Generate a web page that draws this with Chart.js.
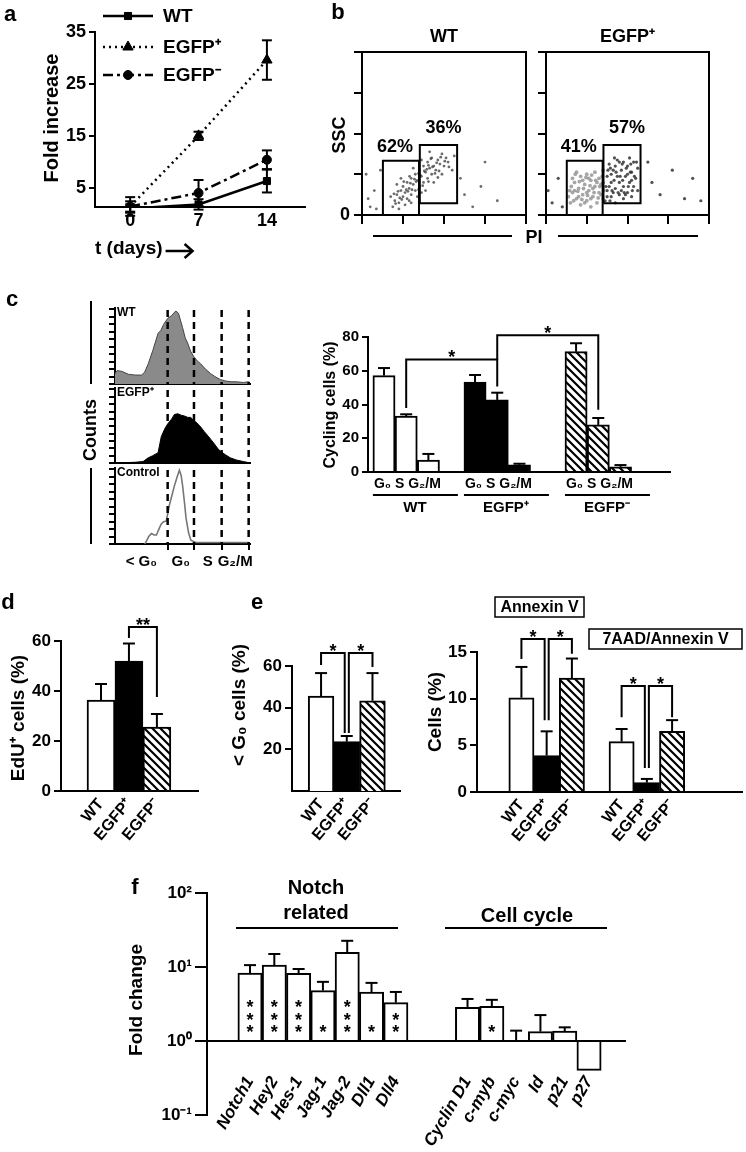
<!DOCTYPE html>
<html lang="en">
<head>
<meta charset="UTF-8">
<title>Figure</title>
<script src="https://cdn.jsdelivr.net/npm/chart.js"></script>
<style>
  body { margin: 0; background: #fff; }
  #fig { position: relative; width: 746px; height: 1152px; overflow: hidden; background: #fff; }
  #fig canvas { position: absolute; left: 0; top: 0; }
</style>
</head>
<body>
<div id="fig">
  <canvas id="growth" width="746" height="1152"></canvas>
  <canvas id="ssWT" width="746" height="1152"></canvas>
  <canvas id="ssPos" width="746" height="1152"></canvas>
  <canvas id="hWT" width="746" height="1152"></canvas>
  <canvas id="hPos" width="746" height="1152"></canvas>
  <canvas id="hCtrl" width="746" height="1152"></canvas>
  <canvas id="cycle" width="746" height="1152"></canvas>
  <canvas id="edu" width="746" height="1152"></canvas>
  <canvas id="subg0" width="746" height="1152"></canvas>
  <canvas id="apop" width="746" height="1152"></canvas>
  <canvas id="genes" width="746" height="1152"></canvas>
</div>
<script>
// ---------- data ----------
// a: fold increase over time
const days = [0, 7, 14];
const wtGrowth = [1.0, 1.8, 6.3];
const wtGrowthSd = [0.8, 1.0, 2.2];
const posGrowth = [1.4, 15.0, 29.6];
const posGrowthSd = [1.0, 0.8, 3.8];
const negGrowth = [1.4, 4.0, 10.4];
const negGrowthSd = [1.8, 2.5, 1.8];
const growthTicks = [5, 15, 25, 35];

// b: PI / SSC dot plots (PI and SSC in axis units 0-4)
const gateLow = [0.51, 1.39, 0, 1.33];
const gateHigh = [1.41, 2.32, 0.29, 1.72];
const gatePctWT = ['62%', '36%'];
const gatePctPos = ['41%', '57%'];
const dotsWT = [[0.75,0.2],[0.8,0.35],[0.85,0.5],[0.9,0.3],[0.95,0.6],[1.0,0.45],[1.0,0.7],[1.05,0.55],[1.1,0.4],[1.1,0.8],[1.15,0.65],[1.2,0.9],[1.2,0.5],[1.25,0.75],[1.3,0.6],[1.3,1.0],[1.35,0.85],[1.4,0.7],[1.4,1.1],[1.45,0.95],[1.5,0.8],[1.5,1.2],[1.55,1.05],[1.6,0.9],[1.6,1.3],[1.65,1.15],[1.7,1.0],[1.7,1.4],[1.75,1.2],[1.8,1.1],[1.85,1.35],[1.9,1.25],[1.95,1.5],[2.0,1.2],[2.05,1.4],[2.1,1.3],[0.9,0.15],[1.05,0.25],[1.2,0.3],[0.7,0.45],[0.85,0.75],[1.35,0.45],[1.55,0.6],[1.75,0.8],[1.95,1.0],[2.2,1.1],[2.25,1.45],[1.45,1.35],[1.25,1.15],[1.65,1.55],[0.92,0.42],[1.08,0.62],[1.18,0.78],[1.32,0.82],[1.42,0.98],[1.58,1.12],[1.72,1.18],[1.88,1.08],
  [0.82,0.28],[0.88,0.58],[0.97,0.38],[1.02,0.82],[1.12,0.58],[1.16,0.95],[1.22,0.62],[1.28,0.88],[1.38,0.62],[1.38,1.02],[1.48,0.72],[1.52,1.08],[1.62,0.82],[1.62,1.22],[1.68,1.38],[1.78,1.02],[1.82,1.28],[1.92,1.42],[2.02,1.32],[2.12,1.18],[0.78,0.52],[0.95,0.9],[1.15,0.35],[1.45,0.55],[1.85,0.92],
  [0.1,1.0],[0.15,0.4],[0.3,0.6],[0.35,0.15],[0.45,1.1],[2.5,0.5],[2.7,0.2],[2.9,0.7],[3.3,0.35],[3.0,1.3],[0.2,0.2],[2.4,0.9]];
const dotsPosLight = [[0.6,0.3],[0.65,0.55],[0.7,0.8],[0.75,0.4],[0.8,0.65],[0.85,0.25],[0.85,0.95],[0.9,0.5],[0.95,0.75],[1.0,0.35],[1.0,1.0],[1.05,0.6],[1.1,0.85],[1.1,0.2],[1.15,0.45],[1.2,0.7],[1.2,1.05],[1.25,0.3],[1.3,0.55],[1.3,0.9],[1.35,0.75],[1.4,0.4],[1.4,1.1],[0.7,0.6],[0.8,0.45],[0.9,0.85],[0.95,0.3],[1.05,0.9],[1.15,0.65],[1.25,0.8],[1.35,0.5],[0.65,0.9],[0.75,1.05],[1.0,0.55],[1.1,0.4],[0.55,0.45],
  [0.62,0.7],[0.68,0.35],[0.72,1.0],[0.78,0.58],[0.82,0.82],[0.88,0.38],[0.92,0.65],[0.98,0.92],[1.02,0.48],[1.08,0.72],[1.12,0.98],[1.18,0.55],[1.22,0.85],[1.28,0.42],[1.32,0.7],[1.38,0.95],[0.58,0.6],[1.42,0.6]];
const dotsPosDark = [[1.45,0.35],[1.5,0.6],[1.5,0.95],[1.55,1.25],[1.6,0.45],[1.6,0.8],[1.65,1.1],[1.7,0.3],[1.7,0.65],[1.75,0.95],[1.75,1.35],[1.8,0.5],[1.8,0.8],[1.85,1.1],[1.9,0.4],[1.9,0.7],[1.9,1.3],[1.95,0.95],[2.0,0.55],[2.0,1.2],[2.05,0.8],[2.05,1.4],[2.1,0.45],[2.1,1.05],[2.15,0.7],[2.15,1.3],[2.2,0.9],[2.25,0.6],[2.25,1.15],[1.55,0.7],[1.65,0.55],[1.85,0.6],[1.95,0.5],[2.0,1.0],[1.7,1.2],[1.8,1.3],[1.6,1.0],[2.1,0.85],[1.5,0.45],[1.4,0.8],
  [1.47,0.7],[1.52,1.1],[1.57,0.35],[1.62,0.6],[1.67,0.85],[1.72,1.05],[1.77,0.55],[1.82,0.95],[1.87,1.25],[1.92,0.55],[1.97,1.15],[2.02,0.7],[2.07,1.05],[2.12,0.6],[2.17,0.95],[2.22,1.3],[1.58,1.15],[1.68,1.4],[1.88,0.85],[2.08,1.25],
  [0.05,0.6],[0.15,0.3],[0.3,0.9],[0.4,0.2],[2.6,0.8],[2.8,0.5],[3.1,1.1],[3.4,0.4],[3.8,0.35],[2.5,1.3],[3.6,0.9]];

// c: DNA content histograms (channel 0-100, % of max)
const histWT = [[0,14],[1.5,18],[5,17],[10,13],[15,12],[19.7,12],[22,16],[24.6,27],[28,45],[31.9,68],[34,72],[36,80],[39,88],[42,92],[45,98],[47,95],[50,76],[52,62],[53.8,55],[56,44],[58.6,36],[61,31],[63.5,27],[67,20],[70.8,14],[74,10],[78,6],[82,4],[86,3],[90,3],[95,2],[99,3],[100,2]];
const histPos = [[0,0],[15,1],[20.8,2],[24.6,7],[28,10],[31.9,14],[34.3,36],[37,47],[39,53],[42,60],[44,66],[46.5,67],[49,65],[51.3,64],[54,62],[56.2,62],[58,58],[59.8,56],[63.5,49],[66,43],[68.3,38],[71,32],[73.2,27],[76,20],[78,16],[82,11],[85.4,7],[90,4],[95,2],[97.6,1],[100,0]];
const histCtrl = [[22.1,0],[25,10],[27,14],[29,12],[30.7,12],[33,22],[34.3,27],[36,30],[38,31],[40.4,53],[42,64],[44,78],[46,90],[47.7,99],[49,92],[50.1,78],[51.5,55],[52.6,35],[54.5,15],[56.2,5],[59.9,2],[70,2],[80,2],[90,2],[99,2]];
const phaseCuts = [39, 58.5, 79, 99];
const phaseNames = ['< G₀', 'G₀', 'S', 'G₂/M'];

// c: cycling cells (%) per phase G0, S, G2/M
const groups = ['WT', 'EGFP⁺', 'EGFP⁻'];
const cycleWT = [57.1, 33.2, 7.1], cycleWTSd = [4.5, 1.0, 3.6];
const cyclePos = [53.3, 42.7, 4.3], cyclePosSd = [4.2, 4.3, 0.6];
const cycleNeg = [71.3, 27.9, 3.1], cycleNegSd = [5.0, 4.1, 1.0];

// d, e
const eduPct = [36.4, 52.0, 25.6], eduSd = [6.4, 7.0, 5.2];
const subG0Pct = [45.6, 23.7, 43.3], subG0Sd = [11.0, 2.7, 13.3];
const annexinPct = [10.1, 3.9, 12.2], annexinSd = [3.3, 2.6, 2.1];
const aadPct = [5.4, 1.0, 6.5], aadSd = [1.35, 0.4, 1.2];

// f: fold change (log)
const notchGenes = ['Notch1', 'Hey2', 'Hes-1', 'Jag-1', 'Jag-2', 'Dll1', 'Dll4'];
const notchFold = [8.3, 10.6, 8.2, 4.8, 15.8, 4.6, 3.3];
const notchUpper = [10.6, 15.0, 9.4, 6.3, 22.6, 6.1, 4.6];
const notchStars = [3, 3, 3, 1, 3, 1, 2];
const cycleGenes = ['Cyclin D1', 'c-myb', 'c-myc', 'Id', 'p21', 'p27'];
const cycleFold = [2.85, 2.94, 1.0, 1.34, 1.36, 0.4];
const cycleUpper = [3.7, 3.6, 1.38, 2.24, 1.53, 0.4];
const cycleStars = [0, 1, 0, 0, 0, 0];

// ---------- helpers ----------
const FONT = '"Liberation Sans", Arial, sans-serif';
Chart.defaults.font.family = FONT;
Chart.defaults.color = '#000';
const W = 746, H = 1152, YW = 60;
const el = id => document.getElementById(id);

function box(l, t, r, b, xh) {
  return { left: l - YW, top: t, right: W - r, bottom: H - b - xh };
}
function opts(padding, scales) {
  return {
    responsive: false, animation: false, events: [],
    layout: { autoPadding: false, padding },
    plugins: { legend: { display: false }, tooltip: { enabled: false } },
    scales
  };
}
function yAxis(min, max, ticks, o = {}) {
  const t = { display: o.labels !== false, color: '#000', padding: o.pad ?? 3, font: { size: o.fs || 16, weight: 'bold' } };
  if (o.cb) t.callback = o.cb;
  return {
    type: o.type || 'linear', min, max,
    afterFit: s => { s.width = YW; },
    afterBuildTicks: s => { s.ticks = ticks.map(v => ({ value: v })); },
    border: { display: true, color: '#000', width: 2 },
    grid: { drawOnChartArea: false, drawTicks: true, color: '#000', lineWidth: 2, tickLength: o.tl ?? 6 },
    ticks: t
  };
}
function xAxis(min, max, ticks, o = {}) {
  const t = {
    display: !!o.cb, color: '#000', autoSkip: false, padding: o.pad ?? 3,
    minRotation: o.rot || 0, maxRotation: o.rot || 0,
    font: { size: o.fs || 16, weight: 'bold', style: o.italic ? 'italic' : 'normal' }
  };
  if (o.cb) t.callback = o.cb;
  return {
    type: 'linear', min, max, offset: false,
    position: o.at ? { y: o.at } : 'bottom',
    afterFit: s => { s.height = o.h || 0; },
    afterBuildTicks: s => { s.ticks = ticks.map(v => ({ value: v })); },
    border: { display: true, color: '#000', width: 2 },
    grid: { offset: false, drawOnChartArea: false, drawTicks: !!o.tl, color: '#000', lineWidth: 2, tickLength: o.tl || 0 },
    ticks: t
  };
}
function txt(ctx, s, x, y, o = {}) {
  ctx.save();
  ctx.font = `${o.italic ? 'italic ' : ''}${o.weight || 'bold'} ${o.size || 16}px ${FONT}`;
  ctx.fillStyle = '#000';
  ctx.textAlign = o.align || 'center';
  ctx.textBaseline = o.base || 'middle';
  ctx.translate(x, y);
  if (o.rot) ctx.rotate(o.rot);
  ctx.fillText(s, 0, 0);
  const w = ctx.measureText(s).width;
  ctx.restore();
  return w;
}
function line(ctx, pts, w = 2, dash = []) {
  ctx.save();
  ctx.strokeStyle = '#000'; ctx.lineWidth = w; ctx.setLineDash(dash);
  ctx.beginPath();
  pts.forEach((p, i) => i ? ctx.lineTo(p[0], p[1]) : ctx.moveTo(p[0], p[1]));
  ctx.stroke();
  ctx.restore();
}
const deco = fn => ({ id: 'deco', afterDraw(chart) { const c = chart.ctx; c.save(); fn(c, chart); c.restore(); } });

// error bars: dataset.errUp / errDown hold absolute bounds
const errBars = {
  id: 'errBars',
  afterDatasetsDraw(chart) {
    const ctx = chart.ctx;
    chart.data.datasets.forEach((ds, i) => {
      if (!ds.errUp) return;
      const meta = chart.getDatasetMeta(i);
      const ys = chart.scales[meta.yAxisID];
      const cap = ds.cap || 6;
      meta.data.forEach((p, j) => {
        const ends = [ds.errUp[j]];
        if (ds.errDown) ends.push(ds.errDown[j]);
        ends.forEach(v => {
          const y = ys.getPixelForValue(v);
          if (Math.abs(y - p.y) < 1) return;
          line(ctx, [[p.x, p.y], [p.x, y]]);
          line(ctx, [[p.x - cap, y], [p.x + cap, y]]);
        });
      });
    });
  }
};
// significance brackets: [x1, x2, yTop, yLeg1, yLeg2, label]
function brackets(items, fs = 18) {
  return {
    id: 'brackets',
    afterDraw(chart) {
      const ctx = chart.ctx, xs = chart.scales.x, ys = chart.scales.y;
      items.forEach(b => {
        const x1 = xs.getPixelForValue(b[0]), x2 = xs.getPixelForValue(b[1]);
        const y = ys.getPixelForValue(b[2]);
        line(ctx, [[x1, ys.getPixelForValue(b[3])], [x1, y], [x2, y], [x2, ys.getPixelForValue(b[4])]]);
        txt(ctx, b[5], (x1 + x2) / 2, y + 4, { size: fs, base: 'alphabetic' });
      });
    }
  };
}
function makeHatch() {
  const t = document.createElement('canvas');
  t.width = t.height = 8;
  const g = t.getContext('2d');
  g.fillStyle = '#fff'; g.fillRect(0, 0, 8, 8);
  g.strokeStyle = '#000'; g.lineWidth = 2.2;
  g.beginPath();
  g.moveTo(-1, -1); g.lineTo(9, 9);
  g.moveTo(-1, 7); g.lineTo(1, 9);
  g.moveTo(7, -1); g.lineTo(9, 1);
  g.stroke();
  return g.createPattern(t, 'repeat');
}
const HATCH = makeHatch();
const FILLS = ['#fff', '#000', HATCH];

function barSet(xs, vals, sds, colors) {
  return {
    data: xs.map((x, i) => ({ x, y: vals[i] })),
    backgroundColor: colors, borderColor: '#000', borderWidth: 2,
    barPercentage: 1, categoryPercentage: 1,
    errUp: vals.map((v, i) => v + sds[i])
  };
}
function lineSet(vals, sds, dash, style, r) {
  return {
    data: days.map((d, i) => ({ x: d, y: vals[i] })),
    borderColor: '#000', borderWidth: 2.5, borderDash: dash,
    pointStyle: style, pointRadius: r, pointBackgroundColor: '#000', pointBorderColor: '#000', pointBorderWidth: 1,
    errUp: vals.map((v, i) => v + sds[i]), errDown: vals.map((v, i) => v - sds[i]), cap: 5
  };
}
const groupTick = (v, i) => groups[i];

// ---------- a ----------
new Chart(el('growth'), {
  type: 'line',
  data: { datasets: [
    lineSet(wtGrowth, wtGrowthSd, [], 'rect', 5),
    lineSet(posGrowth, posGrowthSd, [2, 4], 'triangle', 6),
    lineSet(negGrowth, negGrowthSd, [10, 4, 3, 4], 'circle', 4.5)
  ] },
  options: opts(box(95, 32, 305, 207, 30), {
    x: xAxis(-3.6, 17.9, days, { h: 30, cb: v => v, fs: 18, pad: 3 }),
    y: yAxis(1.3, 35, growthTicks, { fs: 18, tl: 6 })
  }),
  plugins: [errBars, deco((ctx, chart) => {
    txt(ctx, 'a', 10, 15, { size: 22 });
    txt(ctx, 'Fold increase', 52, 118, { size: 20, rot: -Math.PI / 2 });
    const w = txt(ctx, 't (days)', 95, 249, { size: 19, align: 'left' });
    const ax = 95 + w + 3;
    line(ctx, [[ax, 251], [ax + 26, 251]], 2.5);
    line(ctx, [[ax + 19, 244], [ax + 27, 251], [ax + 19, 258]], 2.5);
    const legend = [['WT', [], 'rect', 5, 16], ['EGFP⁺', [2, 4], 'triangle', 6, 47], ['EGFP⁻', [10, 4, 3, 4], 'circle', 4.5, 75]];
    legend.forEach(([name, dash, style, r, y]) => {
      line(ctx, [[103, y], [153, y]], 2.5, dash);
      ctx.fillStyle = '#000'; ctx.strokeStyle = '#000'; ctx.lineWidth = 1;
      Chart.helpers.drawPoint(ctx, { pointStyle: style, radius: r, borderWidth: 1, rotation: 0 }, 128, y);
      txt(ctx, name, 163, y + 1, { size: 19, align: 'left' });
    });
  })]
});

// ---------- b ----------
function dotPlot(id, l, r, sets, title, pct, labelZero, extra) {
  new Chart(el(id), {
    type: 'scatter',
    data: { datasets: sets.map(([pts, color, rad]) => ({
      data: pts.map(p => ({ x: p[0], y: p[1] })),
      pointRadius: rad, pointBackgroundColor: color, pointBorderWidth: 0
    })) },
    options: opts(box(l, 52, r, 215, 20), {
      x: xAxis(0, 4, [0, 1, 2, 3, 4], { h: 20, tl: 9 }),
      y: yAxis(0, 4, [0, 1, 2, 3, 4], { tl: 8, fs: 18, pad: 4, cb: v => (labelZero && v === 0 ? '0' : '') })
    }),
    plugins: [deco((ctx, chart) => {
      const a = chart.chartArea, xs = chart.scales.x, ys = chart.scales.y;
      line(ctx, [[a.left, a.top], [a.right, a.top], [a.right, a.bottom]]);
      [gateLow, gateHigh].forEach((g, i) => {
        const x1 = xs.getPixelForValue(g[0]), x2 = xs.getPixelForValue(g[1]);
        const y1 = ys.getPixelForValue(g[2]), y2 = ys.getPixelForValue(g[3]);
        line(ctx, [[x1, y1], [x1, y2], [x2, y2], [x2, y1], [x1, y1]]);
        txt(ctx, pct[i], (x1 + x2) / 2 + (i ? 5 : -6), y2 - (i ? 17 : 14), { size: 18 });
      });
      txt(ctx, title, (a.left + a.right) / 2, 37, { size: 18 });
      if (extra) extra(ctx);
    })]
  });
}
dotPlot('ssWT', 362, 526, [[dotsWT, 'rgba(70,70,70,0.8)', 1.4]], 'WT', gatePctWT, true, ctx => {
  txt(ctx, 'b', 338, 13, { size: 22 });
  txt(ctx, 'SSC', 340, 135, { size: 18, rot: -Math.PI / 2 });
  line(ctx, [[373, 236], [512, 236]], 2);
  txt(ctx, 'PI', 534, 238, { size: 18 });
  line(ctx, [[558, 236], [698, 236]], 2);
});
dotPlot('ssPos', 546, 709, [[dotsPosLight, 'rgba(150,150,150,0.85)', 1.9], [dotsPosDark, 'rgba(50,50,50,0.85)', 1.6]], 'EGFP⁺', gatePctPos, false);

// ---------- c: histograms ----------
function histo(id, t, b, pts, fill, stroke, name, isLast) {
  new Chart(el(id), {
    type: 'line',
    data: { datasets: [{
      data: pts.map(p => ({ x: p[0], y: p[1] })),
      fill: fill ? 'origin' : false, backgroundColor: fill || 'transparent',
      borderColor: stroke, borderWidth: fill ? 1 : 1.6, pointRadius: 0, tension: 0
    }] },
    options: opts(box(115, t, 250, b, isLast ? 8 : 0), {
      x: xAxis(0, 100, isLast ? phaseCuts : [], { h: isLast ? 8 : 0, tl: isLast ? 6 : 0 }),
      y: yAxis(0, 102, [0, 10, 20, 30, 40, 50, 60, 70, 80, 90, 100], { labels: false, tl: 6 })
    }),
    plugins: [deco((ctx, chart) => {
      const a = chart.chartArea, xs = chart.scales.x;
      phaseCuts.forEach(c => {
        const x = xs.getPixelForValue(c);
        line(ctx, [[x, a.top + 2], [x, a.bottom]], 2.5, [7, 5]);
      });
      txt(ctx, name, 117, t + 5, { size: 12, align: 'left' });
      if (id === 'hWT') txt(ctx, 'c', 12, 300, { size: 22 });
      if (isLast) {
        const edges = [0].concat(phaseCuts);
        phaseNames.forEach((n, i) => {
          const x = (xs.getPixelForValue(edges[i]) + xs.getPixelForValue(edges[i + 1])) / 2;
          txt(ctx, n, x, 562, { size: 15 });
        });
        txt(ctx, 'Counts', 91, 430, { size: 18, rot: -Math.PI / 2 });
        line(ctx, [[91, 301], [91, 384]]);
        line(ctx, [[91, 468], [91, 544]]);
      }
    })]
  });
}
histo('hWT', 308, 384, histWT, '#8a8a8a', '#444', 'WT', false);
histo('hPos', 388, 463, histPos, '#000', '#000', 'EGFP⁺', false);
histo('hCtrl', 468, 544, histCtrl, null, '#777', 'Control', true);

// ---------- c: cycling cells ----------
const cycleGroupX = [0.72, 4.82, 9.37];
const cycleX = cycleGroupX.flatMap(g => [g, g + 1, g + 2]);
new Chart(el('cycle'), {
  type: 'bar',
  data: { datasets: [barSet(cycleX, cycleWT.concat(cyclePos, cycleNeg), cycleWTSd.concat(cyclePosSd, cycleNegSd),
    cycleX.map((_, i) => FILLS[Math.floor(i / 3)]))] },
  options: opts(box(368, 337, 670, 472, 10), {
    x: xAxis(0, 13.6, [], { h: 10 }),
    y: yAxis(0, 80, [0, 20, 40, 60, 80], { fs: 15, tl: 6 })
  }),
  plugins: [errBars, brackets([[1.72, 5.82, 66.7, 38, 50.6, '*'], [5.82, 10.37, 81, 66.7, 36.9, '*']]),
    deco((ctx, chart) => {
      const xs = chart.scales.x;
      txt(ctx, 'Cycling cells (%)', 331, 405, { size: 16, rot: -Math.PI / 2 });
      cycleGroupX.forEach((g, i) => {
        const left = xs.getPixelForValue(g - 0.5);
        txt(ctx, 'G₀ S G₂/M', left + 1, 484, { size: 14, align: 'left' });
        line(ctx, [[left, 495], [left + 85, 495]]);
        txt(ctx, groups[i], left + 42, 508, { size: 15 });
      });
    })]
});

// ---------- d ----------
const eduX = [1.43, 2.43, 3.43];
new Chart(el('edu'), {
  type: 'bar',
  data: { datasets: [barSet(eduX, eduPct, eduSd, FILLS)] },
  options: opts(box(61, 641, 198, 791, 60), {
    x: xAxis(0, 4.9, eduX, { h: 60, cb: groupTick, rot: 50, fs: 16, pad: 4 }),
    y: yAxis(0, 60, [0, 20, 40, 60], { fs: 17, tl: 7 })
  }),
  plugins: [errBars, brackets([[2.43, 3.43, 65.6, 61.2, 37.6, '**']]), deco(ctx => {
    txt(ctx, 'd', 8, 603, { size: 22 });
    txt(ctx, 'EdU⁺ cells (%)', 19, 718, { size: 19, rot: -Math.PI / 2 });
  })]
});

// ---------- e ----------
const subX = [1.13, 2.13, 3.13];
new Chart(el('subg0'), {
  type: 'bar',
  data: { datasets: [barSet(subX, subG0Pct, subG0Sd, FILLS)] },
  options: opts(box(292, 666, 400, 791, 60), {
    x: xAxis(0, 4.2, subX, { h: 60, cb: groupTick, rot: 50, fs: 16, pad: 4 }),
    y: yAxis(0, 60, [20, 40, 60], { fs: 17, tl: 7 })
  }),
  plugins: [errBars, brackets([[1.13, 2.05, 66.2, 60.5, 27.8, '*'], [2.21, 3.13, 66.2, 27.8, 59.5, '*']]), deco(ctx => {
    txt(ctx, 'e', 257, 603, { size: 22 });
    txt(ctx, '< G₀ cells (%)', 240, 705, { size: 19, rot: -Math.PI / 2 });
  })]
});
const annX = [1.76, 2.76, 3.76], aadX = [5.73, 6.73, 7.73];
new Chart(el('apop'), {
  type: 'bar',
  data: { datasets: [barSet(annX.concat(aadX), annexinPct.concat(aadPct), annexinSd.concat(aadSd), FILLS.concat(FILLS))] },
  options: opts(box(477, 652, 742, 792, 60), {
    x: xAxis(0, 10.5, annX.concat(aadX), { h: 60, cb: (v, i) => groups[i % 3], rot: 50, fs: 16, pad: 4 }),
    y: yAxis(0, 15, [0, 5, 10, 15], { fs: 17, tl: 7 })
  }),
  plugins: [errBars, brackets([[1.76, 2.68, 16.4, 14.25, 7.7, '*'], [2.84, 3.76, 16.4, 7.7, 14.8, '*'],
    [5.73, 6.65, 11.36, 8.0, 2.57, '*'], [6.81, 7.73, 11.36, 2.57, 8.0, '*']]), deco(ctx => {
    txt(ctx, 'Cells (%)', 436, 712, { size: 19, rot: -Math.PI / 2 });
    ctx.strokeStyle = '#000'; ctx.lineWidth = 1.5;
    ctx.strokeRect(495, 597, 89, 20);
    txt(ctx, 'Annexin V', 539.5, 607.5, { size: 16 });
    ctx.strokeRect(589, 629, 153, 20);
    txt(ctx, '7AAD/Annexin V', 665.5, 639.5, { size: 16 });
  })]
});

// ---------- f ----------
const NOTCH0 = 1.77, CYCLE0 = 10.72;
const geneNames = notchGenes.concat(cycleGenes);
const geneX = notchGenes.map((_, i) => NOTCH0 + i).concat(cycleGenes.map((_, i) => CYCLE0 + i));
const geneFold = notchFold.concat(cycleFold);
const geneStars = notchStars.concat(cycleStars);
const powers = { 0.1: '10⁻¹', 1: '10⁰', 10: '10¹', 100: '10²' };
new Chart(el('genes'), {
  type: 'bar',
  data: { datasets: [{
    data: geneX.map((x, i) => ({ x, y: geneFold[i] })), base: 1,
    backgroundColor: '#fff', borderColor: '#000', borderWidth: 2,
    barPercentage: 1, categoryPercentage: 1,
    errUp: notchUpper.concat(cycleUpper)
  }] },
  options: opts({ left: 207 - YW, top: 893, right: W - 625, bottom: H - 1115 }, {
    x: xAxis(0, 17.2, geneX, { at: 1, cb: (v, i) => geneNames[i], rot: 60, fs: 17, italic: true, pad: 32 }),
    y: yAxis(0.1, 100, [0.1, 1, 10, 100], { type: 'logarithmic', fs: 17, tl: 12, cb: v => powers[v] })
  }),
  plugins: [errBars, deco((ctx, chart) => {
    const ys = chart.scales.y, y0 = ys.getPixelForValue(1);
    chart.getDatasetMeta(0).data.forEach((bar, i) => {
      for (let k = 0; k < geneStars[i]; k++) txt(ctx, '*', bar.x, y0 - 3 - k * 12.5, { size: 18, base: 'alphabetic' });
    });
    txt(ctx, 'f', 135, 888, { size: 22 });
    txt(ctx, 'Fold change', 137, 1000, { size: 19, rot: -Math.PI / 2 });
    txt(ctx, 'Notch', 316, 888, { size: 20 });
    txt(ctx, 'related', 316, 913, { size: 20 });
    line(ctx, [[236, 928], [398, 928]]);
    txt(ctx, 'Cell cycle', 527, 916, { size: 20 });
    line(ctx, [[445, 928], [607, 928]]);
  })]
});
</script>
</body>
</html>
